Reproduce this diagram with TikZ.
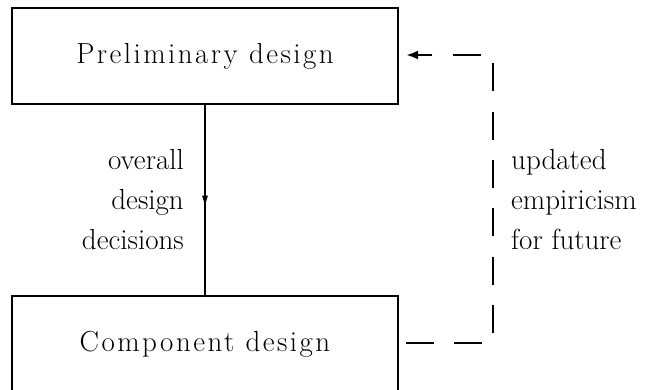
\documentclass[tikz,border=0pt]{standalone}
\usepackage{fontspec}
\newfontfamily\boxfont{lmroman17-regular.otf}[LetterSpace=8.5]
\usetikzlibrary{arrows.meta,decorations.markings}
\begin{document}
\begin{tikzpicture}[x=1pt,y=-1pt,
  box/.style={draw,line width=2.6pt,minimum width=386pt,minimum height=96pt,inner sep=0pt,font=\boxfont\fontsize{29}{40}\selectfont},
  lbl/.style={inner sep=0pt,font=\fontsize{29}{40}\selectfont},
  flow/.style={line width=1.3pt,postaction={decorate},decoration={markings,mark=at position 0.54 with {\arrow{Latex[length=12pt,width=6pt]}}}},
  feedback/.style={line width=2.6pt,dash pattern=on 28pt off 20.4pt,-{Latex[length=12pt,width=9pt]}}]
\useasboundingbox (0,0) rectangle (662,389);
\node[box] (pre) at (205,56) {Preliminary design};
\node[box] (comp) at (205,344) {Component design};
\draw[flow] (pre.south) -- (comp.north);
\node[lbl,anchor=east,align=right] (left) at (184,200) {overall\\design\\decisions};
\node[lbl,anchor=west,align=left] (right) at (511,200) {updated\\empiricism\\for future};
\coordinate (s) at (406,343);
\coordinate (c1) at (493,343);
\coordinate (c2) at (493,55);
\coordinate (e) at (406,55);
\draw[feedback] (s) -- (c1) -- (c2) -- (e);
\end{tikzpicture}
\end{document}
